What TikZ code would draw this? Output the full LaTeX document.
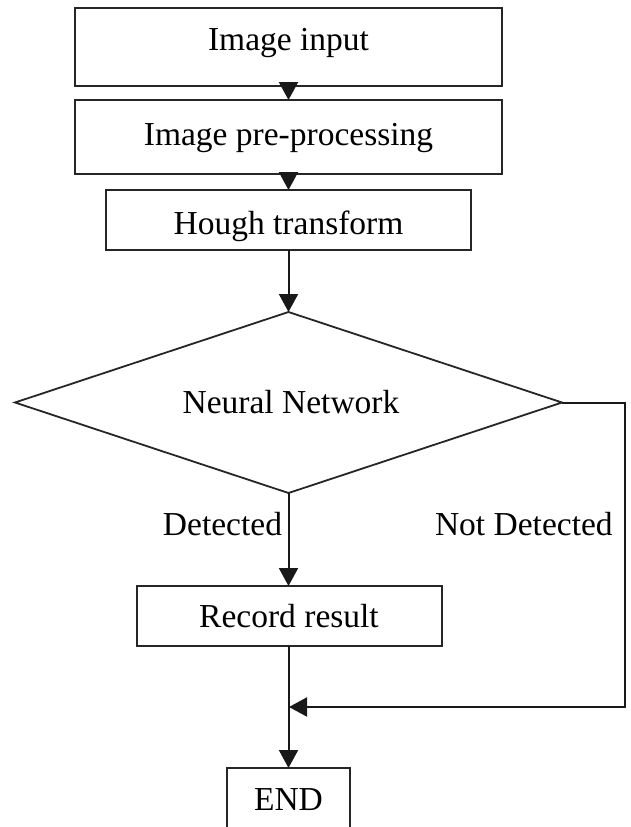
\documentclass[tikz,border=0pt]{standalone}
\usepackage{fontspec}
\setmainfont{Liberation Serif}
\usetikzlibrary{arrows.meta,shapes.geometric}
\begin{document}
\begin{tikzpicture}[x=1pt,y=-1pt,
  every node/.style={inner sep=0pt, outer sep=0pt},
  boxnode/.style={draw=black!85, line width=2pt, rectangle},
  txt/.style={anchor=base, font=\fontsize{33.5}{40}\selectfont, text=black},
  conn/.style={draw=black!90, line width=2pt},
  arr/.style={conn, -{Triangle[length=18pt,width=19pt]}}]
\useasboundingbox (0,0) rectangle (631,827);
\clip (0,0) rectangle (631,827);
% boxes
\node[boxnode, minimum width=427pt, minimum height=78pt] (b1) at (288.5,47) {};
\node[boxnode, minimum width=427pt, minimum height=74pt] (b2) at (288.5,137) {};
\node[boxnode, minimum width=365pt, minimum height=60pt] (b3) at (288.5,220) {};
\node[draw=black!85, line width=1.8pt, diamond, minimum width=547pt, minimum height=181pt] (dec) at (288.5,402.5) {};
\node[boxnode, minimum width=305pt, minimum height=60pt] (rec) at (289.5,616) {};
\node[boxnode, minimum width=123pt, minimum height=90pt] (end) at (288.5,813) {};
% texts
\node[txt] (t1) at (288.5,50) {Image input};
\node[txt] (t2) at (288.5,145) {Image pre-processing};
\node[txt] (t3) at (288.5,234) {Hough transform};
\node[txt] (t4) at (291,413) {Neural Network};
\node[txt, anchor=base east] (t5) at (282,535) {Detected};
\node[txt, anchor=base west] (t6) at (435,535) {Not Detected};
\node[txt] (t7) at (289,627) {Record result};
\node[txt] (t8) at (288.5,810) {END};
% connectors
\coordinate (j) at (289,707);
\coordinate (r1) at (625,402.5);
\coordinate (r2) at (625,707);
\draw[arr] (b1.south) -- (b2.north);
\draw[arr] (b2.south) -- (b3.north);
\draw[arr] (b3.south) -- (dec.north);
\draw[arr] (dec.south) -- (dec.south |- rec.north);
\draw[arr] (rec.south -| dec.south) -- (end.north);
\draw[arr] (dec.east) -- (r1) -- (r2) -- (j);
\end{tikzpicture}
\end{document}
